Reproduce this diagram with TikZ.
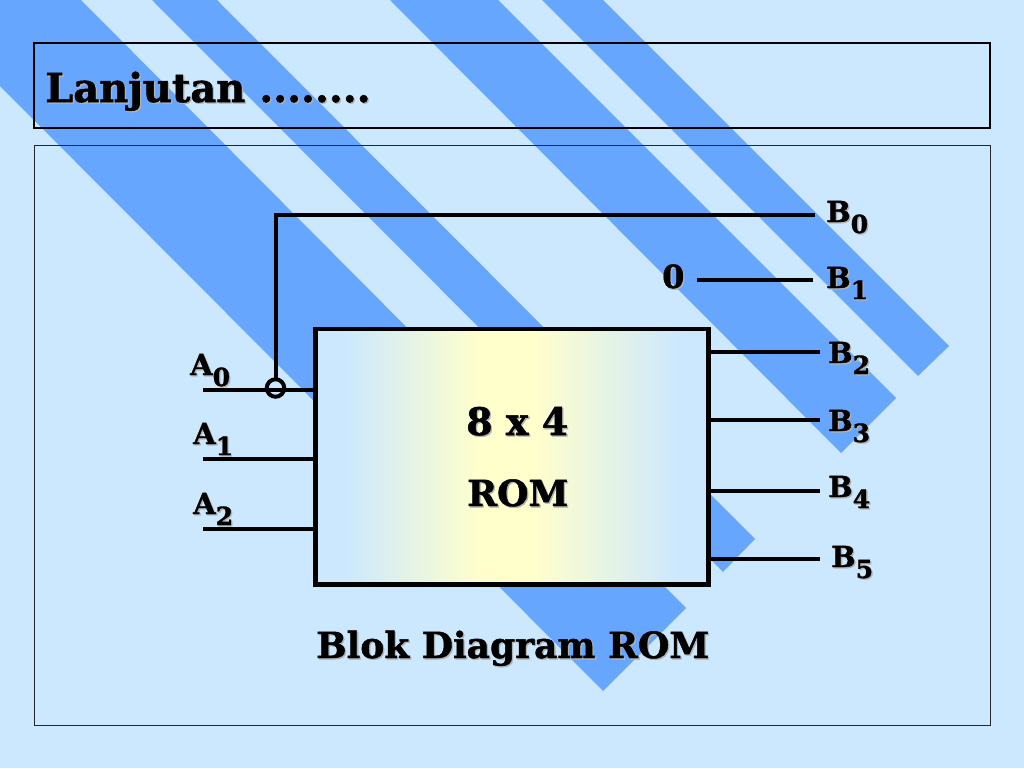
\documentclass[tikz,border=0pt]{standalone}
\usepackage{fontspec}
\setmainfont{DejaVu Serif}[BoldFont={DejaVu Serif Bold},BoldFeatures={FakeBold=1.3}]
\definecolor{bgblue}{HTML}{CCE8FF}
\definecolor{stripe}{HTML}{66A6FF}
\definecolor{paleyellow}{HTML}{FFFFCC}
\pgfdeclarehorizontalshading{romgrad}{100bp}{color(0bp)=(bgblue); color(28.5bp)=(bgblue); color(46bp)=(paleyellow); color(53bp)=(paleyellow); color(71.5bp)=(bgblue); color(100bp)=(bgblue)}
\newcommand{\shad}[1]{\leavevmode\rlap{\kern1.3pt\raisebox{-1.3pt}{\color{black!30}#1}}#1}
\newcommand{\lblsub}[2]{\shad{#1}\raisebox{-11pt}{\fontsize{25}{26}\selectfont\shad{#2}}}
\tikzset{
  stripeband/.style={fill=stripe,draw=none},
  wire/.style={line width=4pt,draw=black},
  lbl/.style={inner sep=0pt,font=\fontsize{29}{30}\selectfont\bfseries,anchor=base west},
  big/.style={inner sep=0pt,font=\fontsize{36}{40}\selectfont\bfseries,anchor=base west},
  frameA/.style={draw=black,line width=2.2pt,outer sep=0pt},
  frameB/.style={draw=black!85,line width=1.2pt,outer sep=0pt}
}
\begin{document}
\begin{tikzpicture}[x=1pt,y=-1pt]
\useasboundingbox (0,0) rectangle (1024,768);
\fill[bgblue] (0,0) rectangle (1024,768);
% stripes
\begin{scope}
\clip (0,0) rectangle (1024,768);
\fill[stripeband] (542,0) -- (603,0) -- (949,346) -- (918,376) -- cycle;
\fill[stripeband] (390,0) -- (498,0) -- (896,398) -- (841,453) -- cycle;
\fill[stripeband] (152,0) -- (217,0) -- (755,539) -- (723,572) -- cycle;
\fill[stripeband] (-88,0) -- (81,0) -- (686,608) -- (603,691) -- (0,86) -- cycle;
\end{scope}
% frames
\node[frameA,minimum width=956pt,minimum height=85pt,inner sep=0pt,anchor=north west] (titlebox) at (34,43) {};
\node[frameB,minimum width=956pt,minimum height=580pt,inner sep=0pt,anchor=north west] (mainbox) at (34.5,145.5) {};
\node[big,font=\fontsize{40}{44}\selectfont\bfseries] (title) at (45,102) {\shad{Lanjutan ........}};
% ROM block
\path[shading=romgrad] (315.5,329) rectangle (708.5,584.5);
\node[draw=black,line width=4.4pt,outer sep=0pt,minimum width=393pt,minimum height=255.5pt,inner sep=0pt,anchor=north west] (rom) at (315.5,329) {};
\node[big,font=\fontsize{38}{40}\selectfont\bfseries] (romA) at (466,435) {\shad{8 x 4}};
\node[big] (romB) at (467,506) {\shad{ROM}};
\node[big] (caption) at (316,658) {\shad{Blok Diagram ROM}};
% left wires
\coordinate (a0s) at (203,390);
\coordinate (a1s) at (203,459);
\coordinate (a2s) at (203,529);
\coordinate (a0e) at (316,390);
\coordinate (a1e) at (316,459);
\coordinate (a2e) at (316,529);
\draw[wire] (a0s) -- (a0e);
\draw[wire] (a1s) -- (a1e);
\draw[wire] (a2s) -- (a2e);
\node[circle,draw=black,line width=4pt,outer sep=0pt,minimum size=17.5pt,inner sep=0pt] (tap) at (275.5,388) {};
\coordinate (b0e) at (815,215);
\draw[wire] (tap.north) -- (275.5,215) -- (b0e);
\node[lbl] (a0) at (190,375) {\lblsub{A}{0}};
\node[lbl] (a1) at (193,444) {\lblsub{A}{1}};
\node[lbl] (a2) at (193,514) {\lblsub{A}{2}};
% right wires
\node[lbl,font=\fontsize{32}{34}\selectfont\bfseries] (zero) at (662,288) {\shad{0}};
\coordinate (b1s) at (697,279.5);
\coordinate (b1e) at (813,279.5);
\draw[wire] (b1s) -- (b1e);
\foreach \yy/\xx/\nm in {352/820/b2,420/820/b3,491/820/b4,559/820/b5}{
  \coordinate (\nm e) at (\xx,\yy);
  \coordinate (\nm s) at (708,\yy);
  \draw[wire] (\nm s) -- (\nm e);
}
\node[lbl] (B0) at (826,222) {\lblsub{B}{0}};
\node[lbl] (B1) at (826,288) {\lblsub{B}{1}};
\node[lbl] (B2) at (828,363) {\lblsub{B}{2}};
\node[lbl] (B3) at (828,431) {\lblsub{B}{3}};
\node[lbl] (B4) at (828,497) {\lblsub{B}{4}};
\node[lbl] (B5) at (831,567) {\lblsub{B}{5}};
\end{tikzpicture}
\end{document}
